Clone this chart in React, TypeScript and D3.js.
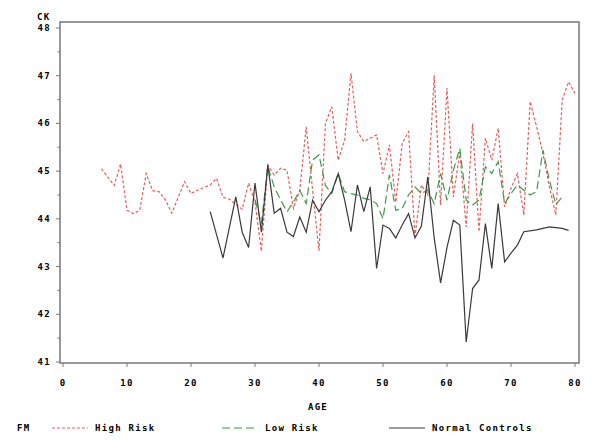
import React from 'react'
import * as d3 from 'd3'

// [AGE, CK] pairs
const highRisk: [number, number][] = [
  [6, 45.05], [8, 44.7], [9, 45.15], [10, 44.18], [11, 44.11], [12, 44.18], [13, 44.95],
  [14, 44.59], [15, 44.57], [16, 44.4], [17, 44.12], [19, 44.78], [20, 44.53], [21, 44.6],
  [23, 44.71], [24, 44.85], [25, 44.45], [26, 44.41], [28, 44.2], [29, 44.75], [30, 44.35],
  [31, 43.32], [32, 45.13], [33, 44.92], [34, 45.06], [35, 45.02], [36, 44.22], [37, 44.6],
  [38, 45.93], [39, 44.6], [40, 43.33], [41, 46.0], [42, 46.35], [43, 45.23], [44, 45.65],
  [45, 47.05], [46, 45.83], [47, 45.62], [48, 45.69], [49, 45.76], [50, 44.95], [51, 45.55],
  [52, 44.35], [53, 45.58], [54, 45.83], [55, 43.63], [56, 44.71], [57, 44.5], [58, 47.01],
  [59, 44.29], [60, 46.74], [61, 44.46], [62, 45.4], [63, 43.83], [64, 46.0], [65, 43.73],
  [66, 45.69], [67, 45.23], [68, 45.9], [69, 44.25], [70, 44.64], [71, 44.95], [72, 44.08],
  [73, 46.46], [74, 45.93], [75, 45.37], [76, 44.67], [77, 44.08], [78, 46.49], [79, 46.87],
  [80, 46.63],
]

const lowRisk: [number, number][] = [
  [30, 44.4], [31, 43.9], [32, 45.1], [33, 44.67], [34, 44.4], [35, 44.15], [36, 44.35],
  [37, 44.6], [38, 44.32], [39, 45.23], [40, 45.34], [41, 44.7], [42, 44.53], [43, 44.95],
  [44, 44.57], [45, 44.53], [46, 44.5], [47, 44.43], [48, 44.4], [49, 44.32], [50, 44.0],
  [51, 44.92], [52, 44.18], [53, 44.22], [54, 44.5], [55, 44.67], [56, 44.53], [57, 44.6],
  [58, 44.32], [59, 44.95], [60, 44.39], [61, 45.02], [62, 45.48], [63, 44.39], [64, 44.29],
  [65, 44.39], [66, 45.09], [67, 44.95], [68, 45.2], [69, 44.32], [70, 44.53], [71, 44.71],
  [72, 44.6], [73, 44.5], [74, 44.57], [75, 45.44], [76, 44.81], [77, 44.3], [78, 44.46],
]

const normalControls: [number, number][] = [
  [23, 44.15], [25, 43.18], [27, 44.46], [28, 43.72], [29, 43.4], [30, 44.75], [31, 43.72],
  [32, 45.13], [33, 44.12], [34, 44.22], [35, 43.72], [36, 43.63], [37, 44.04], [38, 43.72],
  [39, 44.39], [40, 44.15], [41, 44.39], [42, 44.57], [43, 44.95], [44, 44.4], [45, 43.73],
  [46, 44.71], [47, 44.15], [48, 44.67], [49, 42.96], [50, 43.87], [51, 43.8], [52, 43.6],
  [53, 43.87], [54, 44.11], [55, 43.6], [56, 43.85], [57, 44.88], [58, 43.6], [59, 42.66],
  [60, 43.4], [61, 43.97], [62, 43.87], [63, 41.42], [64, 42.54], [65, 42.72], [66, 43.9],
  [67, 42.96], [68, 44.32], [69, 43.1], [70, 43.28], [71, 43.45], [72, 43.73], [74, 43.77],
  [76, 43.83], [78, 43.8], [79, 43.76],
]

const xTicks = [0, 10, 20, 30, 40, 50, 60, 70, 80]
const yTicks = [41, 42, 43, 44, 45, 46, 47, 48]
const yMinor = [41.5, 42.5, 43.5, 44.5, 45.5, 46.5, 47.5]

const series = [
  { name: 'High Risk', data: highRisk, color: '#e4605f', dash: '3,2' },
  { name: 'Low Risk', data: lowRisk, color: '#3f9a4a', dash: '8,4' },
  { name: 'Normal Controls', data: normalControls, color: '#3a3a3a', dash: '' },
]

const font = { fontFamily: 'DejaVu Sans Mono', fontWeight: 'bold' as const, fontSize: 9, letterSpacing: 1.3 }

export default function App() {
  const x = d3.scaleLinear().domain([0, 80]).range([63, 575])
  const y = d3.scaleLinear().domain([41, 48]).range([362, 28])
  const line = d3.line<[number, number]>().x(d => x(d[0])).y(d => y(d[1]))
  const frame = { left: 60, top: 22, right: 579, bottom: 363 }
  const legendX = [52, 222, 389]

  return (
    <svg width={600} height={443} style={{ position: 'absolute', left: 0, top: 0, background: '#fff' }}>
      <rect x={frame.left} y={frame.top} width={frame.right - frame.left} height={frame.bottom - frame.top}
        fill="none" stroke="#777" strokeWidth={1.5} />
      {yTicks.map(t => (
        <g key={t}>
          <line x1={frame.left - 4} x2={frame.left} y1={y(t)} y2={y(t)} stroke="#777" />
          <text x={51} y={y(t) + 3} textAnchor="end" {...font}>{t}</text>
        </g>
      ))}
      {yMinor.map(t => (
        <line key={t} x1={frame.left - 2.5} x2={frame.left} y1={y(t)} y2={y(t)} stroke="#777" />
      ))}
      <text x={37} y={20} {...font}>CK</text>
      {xTicks.map(t => (
        <g key={t}>
          <line x1={x(t)} x2={x(t)} y1={frame.bottom} y2={frame.bottom + 4} stroke="#777" />
          <text x={x(t)} y={386} textAnchor="middle" {...font}>{t}</text>
        </g>
      ))}
      <text x={318} y={410} textAnchor="middle" {...font}>AGE</text>
      {series.map(s => (
        <path key={s.name} d={line(s.data) ?? ''} fill="none" stroke={s.color} strokeWidth={1.2}
          strokeDasharray={s.dash} />
      ))}
      <text x={17} y={431} {...font}>FM</text>
      {series.map((s, i) => (
        <g key={s.name}>
          <line x1={legendX[i]} x2={legendX[i] + 36} y1={428} y2={428} stroke={s.color} strokeWidth={1.2}
            strokeDasharray={s.dash} />
          <text x={legendX[i] + 43} y={431} {...font}>{s.name}</text>
        </g>
      ))}
    </svg>
  )
}
